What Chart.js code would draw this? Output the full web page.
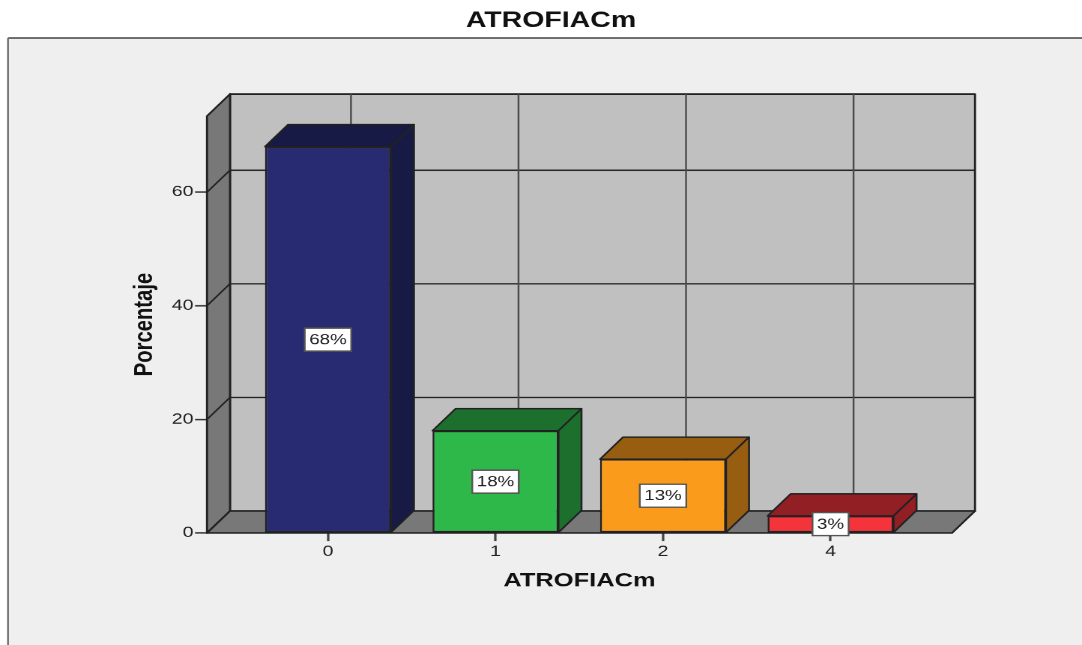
<!DOCTYPE html>
<html>
<head>
<meta charset="utf-8">
<title>ATROFIACm</title>
<style>
    html, body { margin: 0; padding: 0; width: 1082px; height: 645px; background: #fff; overflow: hidden; }
    #chart { display: block; transform-origin: 0 0; }
</style>
<script src="https://cdn.jsdelivr.net/npm/chart.js@4"></script>
</head>
<body>
<canvas id="chart"></canvas>
<script>
const categories = ['0', '1', '2', '4'];
const positions = [0, 1, 2, 3];
const percentages = [68, 18, 13, 3];
const yTickValues = [0, 20, 40, 60];
const barColors = ['#282a72', '#2fb84a', '#fb9b1c', '#f4333b'];
const barShades = ['#171a45', '#1d6f2d', '#975e11', '#921f24'];

// The whole chart is laid out small and enlarged by CSS, more across than down,
// which gives the wide lettering
const pageWidth = 1082;
const pageHeight = 645;
const chartWidth = 722;
const chartHeight = 561;
const widen = pageWidth / chartWidth;
const stretch = pageHeight / chartHeight;

// Receding depth of the box, in chart pixels
const depthX = 23 / widen;
const depthY = 22 / stretch;
const edgeColor = '#222';

function polygon(ctx, points, fill) {
    ctx.beginPath();
    ctx.moveTo(points[0][0], points[0][1]);
    points.slice(1).forEach(p => ctx.lineTo(p[0], p[1]));
    ctx.closePath();
    if (fill) {
        ctx.fillStyle = fill;
        ctx.fill();
    }
    ctx.stroke();
}

function line(ctx, x1, y1, x2, y2) {
    ctx.beginPath();
    ctx.moveTo(x1, y1);
    ctx.lineTo(x2, y2);
    ctx.stroke();
}

const boxPlugin = {
    id: 'box',
    afterLayout(chart) {
        // Title sits off the centre of the plot
        chart.titleBlock.left = 0;
        chart.titleBlock.right = 551 * 2 / widen;
    },
    beforeDraw(chart) {
        const ctx = chart.ctx;
        const panelX = 8 / widen;
        const panelY = 38 / stretch;
        ctx.save();
        ctx.fillStyle = '#efefef';
        ctx.fillRect(panelX, panelY, chartWidth, chartHeight);
        ctx.strokeStyle = '#6a6a6a';
        ctx.lineWidth = 1.8;
        line(ctx, panelX, panelY, chartWidth, panelY);
        ctx.lineWidth = 1.2;
        line(ctx, panelX, panelY, panelX, chartHeight);
        ctx.restore();
    },
    beforeDatasetsDraw(chart) {
        const ctx = chart.ctx;
        const { left, right, top, bottom } = chart.chartArea;
        const x = chart.scales.x;
        const y = chart.scales.y;
        ctx.save();
        ctx.strokeStyle = edgeColor;
        ctx.lineWidth = 1.4;
        ctx.lineJoin = 'round';

        // Walls and floor
        polygon(ctx, [[left + depthX, top - depthY], [right + depthX, top - depthY], [right + depthX, bottom - depthY], [left + depthX, bottom - depthY]], '#c0c0c0');
        polygon(ctx, [[left, top], [left + depthX, top - depthY], [left + depthX, bottom - depthY], [left, bottom]], '#787878');
        polygon(ctx, [[left, bottom], [left + depthX, bottom - depthY], [right + depthX, bottom - depthY], [right, bottom]], '#787878');

        // Grid lines on the back wall and the side wall
        ctx.lineWidth = 1.2;
        yTickValues.slice(1).forEach(v => {
            const py = y.getPixelForValue(v);
            line(ctx, left, py, left + depthX, py - depthY);
            line(ctx, left + depthX, py - depthY, right + depthX, py - depthY);
        });
        ctx.strokeStyle = '#4a4a4a';
        positions.forEach(v => {
            const px = x.getPixelForValue(v) + depthX;
            line(ctx, px, top - depthY, px, bottom - depthY);
        });

        // Top and side faces of the bars
        ctx.strokeStyle = edgeColor;
        ctx.lineWidth = 1.3;
        chart.getDatasetMeta(0).data.forEach((bar, i) => {
            const barRight = bar.x + bar.width / 2;
            const barLeft = bar.x - bar.width / 2;
            polygon(ctx, [[barLeft, bar.y], [barLeft + depthX, bar.y - depthY], [barRight + depthX, bar.y - depthY], [barRight, bar.y]], barShades[i]);
            polygon(ctx, [[barRight, bar.y], [barRight + depthX, bar.y - depthY], [barRight + depthX, bar.base - depthY], [barRight, bar.base]], barShades[i]);
        });
        ctx.restore();
    },
    afterDatasetsDraw(chart) {
        // Percentage boxes in the middle of each bar
        const ctx = chart.ctx;
        ctx.save();
        ctx.font = '12.5px "Liberation Sans"';
        ctx.textAlign = 'center';
        ctx.textBaseline = 'middle';
        chart.getDatasetMeta(0).data.forEach((bar, i) => {
            const text = percentages[i] + '%';
            const w = ctx.measureText(text).width + 6;
            const h = 20;
            const cy = (bar.y + bar.base) / 2;
            ctx.fillStyle = '#fff';
            ctx.strokeStyle = '#555';
            ctx.lineWidth = 1.2;
            ctx.fillRect(bar.x - w / 2, cy - h / 2, w, h);
            ctx.strokeRect(bar.x - w / 2, cy - h / 2, w, h);
            ctx.fillStyle = '#222';
            ctx.fillText(text, bar.x, cy + 0.5);
        });
        ctx.restore();
    }
};

const canvas = document.getElementById('chart');
canvas.width = chartWidth;
canvas.height = chartHeight;

const chart = new Chart(canvas.getContext('2d'), {
    type: 'bar',
    data: {
        datasets: [{
            data: positions.map((p, i) => ({ x: p, y: percentages[i] })),
            backgroundColor: barColors,
            borderColor: edgeColor,
            borderWidth: 1.3,
            borderSkipped: false,
            categoryPercentage: 1,
            barPercentage: 0.752
        }]
    },
    plugins: [boxPlugin],
    options: {
        responsive: false,
        animation: false,
        devicePixelRatio: 2,
        layout: { padding: { right: chartWidth - 952 / widen } },
        plugins: {
            legend: { display: false },
            tooltip: { enabled: false },
            title: {
                display: true,
                text: 'ATROFIACm',
                color: '#111',
                font: { family: '"Liberation Sans"', size: 19, weight: 'bold' },
                padding: { top: 6.9, bottom: 71.2 }
            }
        },
        scales: {
            x: {
                type: 'linear',
                offset: false,
                min: -0.722,
                max: 3.725,
                afterFit(axis) { axis.height = (pageHeight - 533) / stretch; },
                afterBuildTicks(axis) { axis.ticks = positions.map(v => ({ value: v })); },
                border: { display: false },
                grid: { offset: false, drawOnChartArea: false, drawTicks: true, tickLength: 7, tickColor: '#444', tickWidth: 1.6 },
                ticks: {
                    callback: v => categories[v],
                    color: '#222',
                    padding: 1.5,
                    maxRotation: 0,
                    autoSkip: false,
                    font: { family: '"Liberation Sans"', size: 13 }
                },
                title: {
                    display: true,
                    text: 'ATROFIACm',
                    color: '#111',
                    font: { family: '"Liberation Sans"', size: 17, weight: 'bold' },
                    padding: { top: 0, bottom: 45.5 }
                }
            },
            y: {
                min: 0,
                max: 73.4,
                afterFit(axis) { axis.width = 207 / widen; },
                afterBuildTicks(axis) { axis.ticks = yTickValues.map(v => ({ value: v })); },
                border: { display: false },
                grid: { drawOnChartArea: false, drawTicks: true, tickLength: 8, tickColor: '#333', tickWidth: 1.3 },
                ticks: {
                    color: '#222',
                    padding: 1,
                    font: { family: '"Liberation Sans"', size: 13 }
                },
                title: {
                    display: true,
                    text: 'Porcentaje',
                    color: '#111',
                    font: { family: '"Liberation Sans"', size: 17.6, weight: 'bold' },
                    padding: { top: 86, bottom: 0 }
                }
            }
        }
    }
});

canvas.style.transform = 'scale(' + widen + ',' + stretch + ')';
</script>
</body>
</html>
